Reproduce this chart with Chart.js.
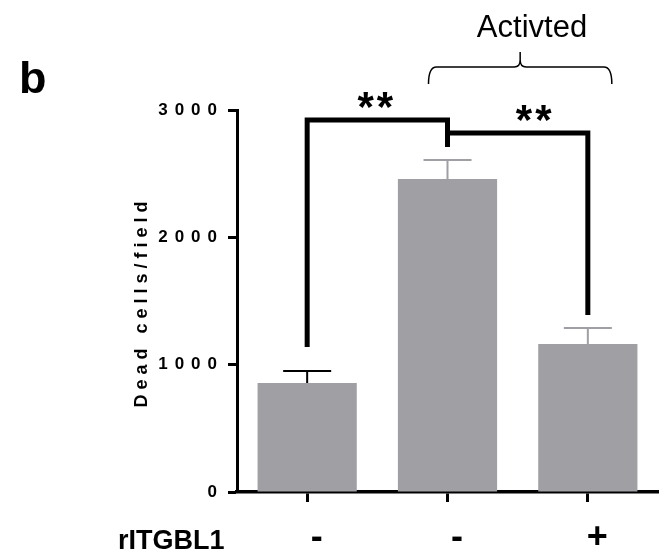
<!DOCTYPE html>
<html>
<head>
<meta charset="utf-8">
<script src="https://cdn.jsdelivr.net/npm/chart.js@4.4.1/dist/chart.umd.min.js"></script>
<style>
  html, body { margin: 0; padding: 0; background: #fff; }
  #wrap { width: 667px; height: 555px; position: relative; }
</style>
</head>
<body>
<div id="wrap"><canvas id="chart"></canvas></div>
<script>
const categories = ['-', '-', '+'];
const deadCells = [856, 2459, 1163];
const deadCellsSem = [94, 149, 125];
const yTickValues = [0, 1000, 2000, 3000];

// significance brackets: [from, to], top height, foot ends (data units)
const bracketPairs = [[0, 1], [1, 2]];
const bracketTops = [2922, 2820];
const bracketFeet = [[1139, 2710], [2820, 1390]];
const bracketMarks = ['**', '**'];

const FONT = "'Liberation Sans', Arial, sans-serif";
const BAR_GREY = '#a09fa4';

const annotations = {
    id: 'annotations',
    beforeDraw(chart) {
        chart.ctx.letterSpacing = '7px';
    },
    afterDatasetsDraw(chart) {
        const ctx = chart.ctx;
        const xs = chart.scales.x, ys = chart.scales.y;
        ctx.save();
        ctx.lineWidth = 2;
        deadCells.forEach((v, i) => {
            const x = xs.getPixelForValue(i);
            const yBar = ys.getPixelForValue(v);
            const yTop = ys.getPixelForValue(v + deadCellsSem[i]);
            ctx.strokeStyle = i === 0 ? '#000' : BAR_GREY;
            ctx.beginPath();
            ctx.moveTo(x, yBar);
            ctx.lineTo(x, yTop);
            ctx.moveTo(x - 24, yTop);
            ctx.lineTo(x + 24, yTop);
            ctx.stroke();
        });
        ctx.restore();
    },
    afterDraw(chart) {
        const ctx = chart.ctx;
        const xs = chart.scales.x, ys = chart.scales.y;
        ctx.save();
        ctx.letterSpacing = '0px';

        // brackets
        ctx.strokeStyle = '#000';
        ctx.lineWidth = 5;
        ctx.lineCap = 'butt';
        ctx.lineJoin = 'miter';
        bracketPairs.forEach((pair, i) => {
            const x1 = xs.getPixelForValue(pair[0]);
            const x2 = xs.getPixelForValue(pair[1]);
            const yt = ys.getPixelForValue(bracketTops[i]);
            ctx.beginPath();
            ctx.moveTo(x1, ys.getPixelForValue(bracketFeet[i][0]));
            ctx.lineTo(x1, yt);
            ctx.lineTo(x2, yt);
            ctx.lineTo(x2, ys.getPixelForValue(bracketFeet[i][1]));
            ctx.stroke();
        });

        // asterisks
        ctx.fillStyle = '#000';
        ctx.textAlign = 'center';
        ctx.textBaseline = 'alphabetic';
        ctx.font = 'bold 42px ' + FONT;
        ctx.letterSpacing = '3px';
        const markShift = [-2, 16];
        bracketPairs.forEach((pair, i) => {
            const xm = (xs.getPixelForValue(pair[0]) + xs.getPixelForValue(pair[1])) / 2 + markShift[i];
            const yt = ys.getPixelForValue(bracketTops[i]);
            ctx.fillText(bracketMarks[i], xm + 1.5, yt + 1);
        });
        ctx.letterSpacing = '0px';

        // brace over activated groups
        const L = xs.getPixelForValue(1) - 19;
        const R = xs.getPixelForValue(2) + 24;
        const M = (L + R) / 2;
        const h = 67;
        ctx.lineWidth = 1.5;
        ctx.beginPath();
        ctx.moveTo(L, 84);
        ctx.quadraticCurveTo(L, h, L + 8, h);
        ctx.lineTo(M - 6, h);
        ctx.quadraticCurveTo(M, h, M, h - 7);
        ctx.lineTo(M, 52);
        ctx.moveTo(M, h - 7);
        ctx.quadraticCurveTo(M, h, M + 6, h);
        ctx.lineTo(R - 8, h);
        ctx.quadraticCurveTo(R, h, R, 84);
        ctx.stroke();

        ctx.font = '31px ' + FONT;
        ctx.fillText('Activted', 532, 37);

        // panel letter
        ctx.textAlign = 'left';
        ctx.font = 'bold 45px ' + FONT;
        ctx.fillText('b', 19, 93);

        // row label
        ctx.font = 'bold 27px ' + FONT;
        ctx.fillText('rITGBL1', 118, 549);

        // y title
        ctx.save();
        ctx.translate(147, 304);
        ctx.rotate(-Math.PI / 2);
        ctx.textAlign = 'center';
        ctx.font = 'bold 18px ' + FONT;
        ctx.letterSpacing = '5px';
        ctx.fillText('Dead cells/field', 2, 0);
        ctx.restore();

        ctx.restore();
    }
};

new Chart(document.getElementById('chart'), {
    type: 'bar',
    data: {
        labels: categories,
        datasets: [{
            data: deadCells,
            backgroundColor: BAR_GREY,
            borderWidth: 0,
            barPercentage: 0.707,
            categoryPercentage: 1
        }]
    },
    options: {
        responsive: true,
        maintainAspectRatio: false,
        animation: false,
        events: [],
        layout: { padding: { top: 110, right: 9, left: 0, bottom: 0 } },
        plugins: { legend: { display: false }, tooltip: { enabled: false } },
        scales: {
            x: {
                z: 1,
                afterFit: scale => { scale.height = 63; },
                border: { color: '#000', width: 3.5 },
                grid: { offset: false, drawOnChartArea: false, tickLength: 10, tickWidth: 3, tickColor: '#000' },
                ticks: {
                    color: '#000',
                    font: { family: FONT, size: 36, weight: 'bold' },
                    padding: 14,
                    labelOffset: 13,
                    maxRotation: 0
                }
            },
            y: {
                z: 1,
                min: 0,
                max: 3000,
                afterFit: scale => { scale.width = 237; },
                afterBuildTicks: scale => { scale.ticks = yTickValues.map(v => ({ value: v })); },
                border: { color: '#000', width: 3 },
                grid: { drawOnChartArea: false, tickLength: 9, tickWidth: 3, tickColor: '#000' },
                ticks: {
                    color: '#000',
                    font: { family: FONT, size: 17, weight: 'bold' },
                    padding: 4,
                    callback: v => String(v)
                }
            }
        }
    },
    plugins: [annotations]
});
</script>
</body>
</html>
